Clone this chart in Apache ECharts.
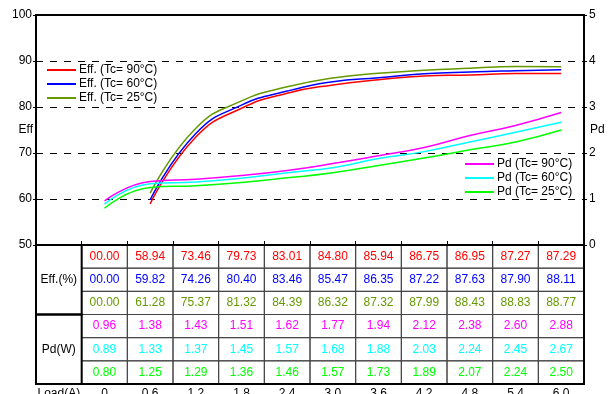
<!DOCTYPE html>
<html>
<head>
<meta charset="utf-8">
<script src="https://cdn.jsdelivr.net/npm/echarts@6/dist/echarts.min.js"></script>
<style>
  html, body { margin: 0; padding: 0; background: #fff; }
  #chart { width: 613px; height: 394px; }
</style>
</head>
<body>
<div id="chart"></div>
<script>
// Load current steps (A)
const loads = ['0', '0.6', '1.2', '1.8', '2.4', '3.0', '3.6', '4.2', '4.8', '5.4', '6.0'];
const categories = ['Load(A)'].concat(loads);

// Efficiency (%) per case temperature
const eff90 = [0, 58.94, 73.46, 79.73, 83.01, 84.80, 85.94, 86.75, 86.95, 87.27, 87.29];
const eff60 = [0, 59.82, 74.26, 80.40, 83.46, 85.47, 86.35, 87.22, 87.63, 87.90, 88.11];
const eff25 = [0, 61.28, 75.37, 81.32, 84.39, 86.32, 87.32, 87.99, 88.43, 88.83, 88.77];

// Power dissipation (W) per case temperature
const pd90 = [0.96, 1.38, 1.43, 1.51, 1.62, 1.77, 1.94, 2.12, 2.38, 2.60, 2.88];
const pd60 = [0.89, 1.33, 1.37, 1.45, 1.57, 1.68, 1.88, 2.03, 2.24, 2.45, 2.67];
const pd25 = [0.80, 1.25, 1.29, 1.36, 1.46, 1.57, 1.73, 1.89, 2.07, 2.24, 2.50];

const effTicks = { min: 50, max: 100, interval: 10 };
const pdTicks = { min: 0, max: 5, interval: 1 };

const C_RED = '#ff0000', C_BLUE = '#0000ff', C_OLIVE = '#669900';
const C_MAG = '#ff00ff', C_CYAN = '#00ffff', C_GREEN = '#00ff00';
const FONT = 'Liberation Sans, Arial, sans-serif';

// Efficiency at no load is not plotted; first column is the row-label column
const effLine = arr => ['-'].concat(arr.map((v, i) => (i === 0 ? '-' : v)));
const pdLine = arr => ['-'].concat(arr);

const effSeries = [
  { name: 'Eff. (Tc= 90°C)', data: eff90, color: C_RED },
  { name: 'Eff. (Tc= 60°C)', data: eff60, color: C_BLUE },
  { name: 'Eff. (Tc= 25°C)', data: eff25, color: C_OLIVE }
];
const pdSeries = [
  { name: 'Pd (Tc= 90°C)', data: pd90, color: C_MAG },
  { name: 'Pd (Tc= 60°C)', data: pd60, color: C_CYAN },
  { name: 'Pd (Tc= 25°C)', data: pd25, color: C_GREEN }
];

// Table cells
const fmtEff = v => (v === 0 ? '00.00' : v.toFixed(2));
const fmtPd = v => v.toFixed(2);
const cells = [];
effSeries.forEach((s, r) => s.data.forEach((v, i) => cells.push({ col: i + 1, row: r, span: 1, text: fmtEff(v), color: s.color, kind: 'cell' })));
pdSeries.forEach((s, r) => s.data.forEach((v, i) => cells.push({ col: i + 1, row: r + 3, span: 1, text: fmtPd(v), color: s.color, kind: 'cell' })));
cells.push({ col: 0, row: 0, span: 3, text: 'Eff.(%)', color: '#000', kind: 'head' });
cells.push({ col: 0, row: 3, span: 3, text: 'Pd(W)', color: '#000', kind: 'head' });
cells.push({ col: 0, row: 0, span: 6, text: '', color: '#000', kind: 'frame' });
const rows = ['r0', 'r1', 'r2', 'r3', 'r4', 'r5'];

const chart = echarts.init(document.getElementById('chart'), null, { renderer: 'canvas' });

const series = [];
effSeries.forEach(s => series.push({
  name: s.name, type: 'line', xAxisIndex: 0, yAxisIndex: 0,
  data: effLine(s.data), smooth: 0.5, showSymbol: false, symbol: 'none',
  lineStyle: { color: s.color, width: 1.5 }, itemStyle: { color: s.color }, z: 3
}));
pdSeries.forEach(s => series.push({
  name: s.name, type: 'line', xAxisIndex: 0, yAxisIndex: 1,
  data: pdLine(s.data), smooth: 0.5, showSymbol: false, symbol: 'none',
  lineStyle: { color: s.color, width: 1.5 }, itemStyle: { color: s.color }, z: 3
}));

series.push({
  type: 'custom', xAxisIndex: 2, yAxisIndex: 2,
  data: cells.map(c => [c.col, c.row]),
  silent: true, z: 5,
  renderItem: function (params, api) {
    const c = cells[params.dataIndex];
    const p = api.coord([c.col, c.row]);
    const sz = api.size([1, 1]);
    let x0 = p[0] - sz[0] / 2, y0 = p[1] - sz[1] / 2, w = sz[0], h = sz[1] * c.span;
    if (c.kind === 'frame') {
      w = sz[0] * categories.length;
      return { type: 'rect', shape: { x: x0, y: y0, width: w, height: h },
        style: { fill: null, stroke: '#000', lineWidth: 2 } };
    }
    const children = [{
      type: 'rect', shape: { x: x0, y: y0, width: w, height: h },
      style: { fill: null, stroke: c.kind === 'head' ? '#000' : '#444', lineWidth: c.kind === 'head' ? 2 : 1 }
    }];
    children.push({
      type: 'text',
      style: { text: c.text, x: x0 + w / 2, y: y0 + h / 2, align: 'center', verticalAlign: 'middle',
        fill: c.color, fontSize: 12, fontFamily: FONT }
    });
    return { type: 'group', children: children };
  }
});

const option = {
  animation: false,
  backgroundColor: '#fff',
  textStyle: { fontFamily: FONT },
  grid: [
    { left: 36, right: 29, top: 15, height: 230, show: false, containLabel: false, outerBoundsMode: 'none' },
    { left: 36, right: 29, top: 245, height: 139, show: false, containLabel: false, outerBoundsMode: 'none' }
  ],
  legend: [
    {
      data: effSeries.map(s => s.name), orient: 'vertical', left: 42, top: 59,
      icon: 'rect', itemWidth: 29, itemHeight: 2, itemGap: 2,
      textStyle: { fontSize: 12, color: '#000', fontFamily: FONT, padding: [0, 0, 0, -2] },
      selectedMode: false
    },
    {
      data: pdSeries.map(s => s.name), orient: 'vertical', left: 460, top: 153,
      icon: 'rect', itemWidth: 29, itemHeight: 2, itemGap: 2,
      textStyle: { fontSize: 12, color: '#000', fontFamily: FONT, padding: [0, 0, 0, -2] },
      selectedMode: false
    }
  ],
  xAxis: [
    {
      type: 'category', gridIndex: 0, data: categories, boundaryGap: true,
      axisLine: { show: true, lineStyle: { color: '#000', width: 2 } },
      axisTick: { show: true, inside: true, length: 4, interval: 0, lineStyle: { color: '#000' } },
      axisLabel: { show: false }, splitLine: { show: false }
    },
    {
      type: 'category', gridIndex: 0, position: 'top', data: categories, boundaryGap: true,
      axisLine: { show: true, lineStyle: { color: '#000', width: 2 } },
      axisTick: { show: false }, axisLabel: { show: false }, splitLine: { show: false }
    },
    {
      type: 'category', gridIndex: 1, data: categories, boundaryGap: true,
      axisLine: { show: false }, axisTick: { show: false },
      axisLabel: { show: true, interval: 0, color: '#000', fontSize: 12, margin: 4, fontFamily: FONT },
      splitLine: { show: false }
    }
  ],
  yAxis: [
    {
      type: 'value', gridIndex: 0, min: effTicks.min, max: effTicks.max, interval: effTicks.interval,
      name: 'Eff', nameLocation: 'middle', nameRotate: 0, nameGap: 3, nameMoveOverlap: false,
      nameTextStyle: { color: '#000', fontSize: 12, align: 'right', verticalAlign: 'middle' },
      axisLine: { show: true, lineStyle: { color: '#000', width: 2 } },
      axisTick: { show: true, length: 3, lineStyle: { color: '#000' } },
      axisLabel: { color: '#000', fontSize: 12, margin: 4 },
      splitLine: { show: true, showMinLine: false, showMaxLine: false, lineStyle: { color: '#000', type: [7, 7], width: 1 } }
    },
    {
      type: 'value', gridIndex: 0, position: 'right', min: pdTicks.min, max: pdTicks.max, interval: pdTicks.interval,
      name: 'Pd', nameLocation: 'middle', nameRotate: 0, nameGap: 6, nameMoveOverlap: false,
      nameTextStyle: { color: '#000', fontSize: 12, align: 'left', verticalAlign: 'middle' },
      axisLine: { show: true, lineStyle: { color: '#000', width: 2 } },
      axisTick: { show: true, length: 3, lineStyle: { color: '#000' } },
      axisLabel: { color: '#000', fontSize: 12, margin: 5 },
      splitLine: { show: false }
    },
    {
      type: 'category', gridIndex: 1, data: rows, inverse: true,
      axisLine: { show: false }, axisTick: { show: false }, axisLabel: { show: false }, splitLine: { show: false }
    }
  ],
  series: series
};

chart.setOption(option);
</script>
</body>
</html>
